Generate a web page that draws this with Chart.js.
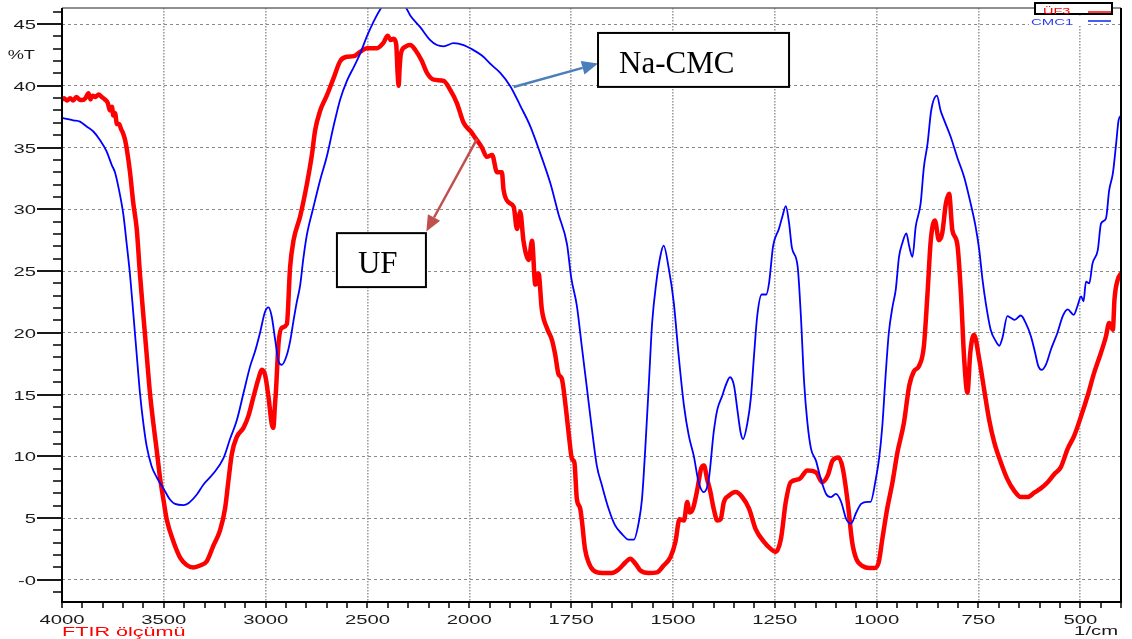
<!DOCTYPE html>
<html>
<head>
<meta charset="utf-8">
<script src="https://cdn.jsdelivr.net/npm/chart.js@4.4.1/dist/chart.umd.min.js"></script>
<style>
  html, body { margin: 0; padding: 0; background: #fff; }
  #wrap { width: 1132px; height: 639px; }
</style>
</head>
<body>
<div id="wrap"><canvas id="c" width="1132" height="639"></canvas></div>
<script>
// UF3 (urea-formaldehyde) transmittance spectrum
const ufWavenumber = [
  4000,3990,3975,3960,3945,3930,3915,3900,3885,3870,
  3860,3850,3835,3820,3805,3790,3775,3765,3755,3748,
  3740,3730,3720,3710,3699,3690,3682,3666,3650,3633,
  3617,3600,3584,3568,3551,3535,3519,3502,3486,3453,
  3420,3388,3355,3322,3289,3257,3224,3199,3183,3166,
  3142,3109,3085,3060,3035,3019,3003,2986,2970,2962,
  2955,2949,2937,2921,2896,2880,2863,2831,2798,2773,
  2757,2732,2700,2667,2634,2601,2568,2536,2503,2454,
  2421,2401,2385,2372,2359,2352,2347,2342,2336,2315,
  2290,2265,2233,2208,2175,2126,2093,2061,2028,1995,
  1989,1969,1957,1944,1932,1920,1916,1903,1891,1883,
  1875,1867,1854,1846,1838,1830,1822,1809,1797,1789,
  1781,1773,1764,1756,1748,1742,1736,1728,1724,1716,
  1707,1695,1674,1650,1633,1617,1605,1592,1580,1560,
  1539,1523,1506,1494,1484,1473,1465,1459,1451,1440,
  1431,1424,1416,1408,1400,1391,1383,1375,1363,1346,
  1330,1313,1297,1276,1260,1248,1235,1223,1211,1190,
  1170,1149,1133,1120,1108,1093,1083,1071,1060,1050,
  1034,1018,1005,995,986,974,961,949,933,920,
  908,896,884,875,867,857,847,839,830,822,
  814,802,793,785,777,770,761,748,736,724,
  711,695,679,662,646,629,613,597,580,564,
  548,531,515,498,482,466,449,437,429,420,
  416,408,400
];
const ufTransmittance = [
  38.9,39.0,38.8,39.0,38.8,39.1,38.9,38.85,39.0,39.4,
  38.9,39.2,39.1,39.3,39.1,38.9,38.6,38.0,38.3,37.6,
  37.8,36.9,36.9,36.5,36.1,35.6,34.9,33.0,30.5,28.4,
  24.7,21.3,18.2,15.1,12.6,10.5,8.3,6.5,4.9,3.1,
  1.8,1.2,1.0,1.15,1.5,2.75,4.0,5.8,8.0,10.2,
  11.55,12.3,13.25,14.8,16.3,17.0,16.6,14.8,12.6,12.3,
  14.0,15.4,19.1,20.4,20.7,25.3,27.5,29.4,32.0,34.4,
  36.4,38.0,39.2,40.6,42.0,42.35,42.4,42.75,43.05,43.05,
  43.5,44.05,43.7,43.8,43.35,41.0,40.0,41.5,42.6,43.15,
  43.3,42.9,42.0,41.05,40.5,40.4,39.65,38.6,37.0,36.25,
  35.95,35.0,34.25,34.4,33.0,33.0,31.6,30.55,30.2,28.4,
  29.8,27.45,25.9,27.45,23.9,24.8,21.9,20.35,19.4,18.2,
  16.65,16.3,14.2,11.85,9.8,9.5,6.55,5.8,4.9,2.5,
  1.4,0.75,0.55,0.55,0.85,1.4,1.7,1.3,0.75,0.55,
  0.6,1.15,1.85,3.05,4.9,4.8,6.3,5.45,5.75,7.35,
  9.0,9.25,8.15,7.1,5.75,4.8,4.9,6.3,6.8,7.1,
  6.7,5.75,4.1,3.05,2.5,2.25,3.3,6.3,7.9,8.15,
  8.85,8.7,7.9,8.45,9.65,9.9,9.0,6.3,3.05,1.7,
  1.1,0.95,0.95,1.4,3.3,5.75,7.9,10.3,12.7,15.7,
  16.9,17.3,18.9,23.2,27.5,29.1,27.5,28.05,30.45,31.25,
  28.3,27.2,23.2,17.85,15.15,18.4,19.85,17.85,15.4,13.0,
  11.1,9.5,8.15,7.2,6.7,6.7,7.05,7.4,7.9,8.55,
  9.1,10.6,11.65,13.25,14.9,16.75,18.4,19.7,20.8,20.25,
  22.7,24.3,24.8
];

// CMC1 (sodium carboxymethyl cellulose) transmittance spectrum
const cmcWavenumber = [
  4000,3970,3944,3912,3879,3846,3813,3781,3756,3740,
  3723,3699,3682,3666,3650,3633,3617,3600,3584,3560,
  3535,3502,3470,3445,3404,3379,3338,3306,3257,3207,
  3175,3142,3109,3076,3052,3027,3003,2986,2970,2953,
  2937,2921,2896,2880,2863,2847,2831,2815,2798,2765,
  2732,2700,2667,2634,2601,2568,2536,2503,2470,2437,
  2410,2370,2330,2310,2290,2241,2192,2159,2126,2077,
  2028,1993,1969,1944,1924,1899,1875,1850,1826,1801,
  1781,1760,1750,1736,1724,1711,1699,1687,1674,1658,
  1642,1625,1609,1596,1584,1576,1568,1559,1551,1541,
  1531,1523,1510,1498,1486,1473,1461,1449,1437,1424,
  1412,1400,1391,1379,1371,1360,1350,1342,1334,1328,
  1317,1309,1301,1293,1282,1271,1264,1254,1240,1231,
  1223,1215,1208,1194,1186,1178,1170,1161,1149,1137,
  1124,1112,1100,1087,1075,1063,1050,1038,1022,1015,
  1002,994,986,978,970,961,953,945,937,927,
  920,912,904,892,884,875,866,852,843,834,
  818,802,785,769,757,748,740,732,720,707,
  699,691,679,670,661,646,634,621,611,603,
  595,584,572,556,543,531,516,507,498,492,
  486,478,470,457,449,437,429,420,412,406,
  400
];
const cmcTransmittance = [
  37.4,37.3,37.2,37.1,36.7,36.3,35.6,34.7,33.6,33.0,
  31.8,29.6,27.15,24.7,21.6,18.2,15.1,12.6,10.8,9.2,
  8.3,7.4,6.5,6.15,6.05,6.2,6.9,7.7,8.6,9.85,
  11.4,12.9,15.1,17.3,18.5,20.05,21.7,22.05,21.3,19.4,
  17.7,17.4,18.2,19.3,21.0,22.5,23.8,26.0,27.9,30.2,
  32.4,34.25,36.7,38.9,40.4,41.5,42.6,44.0,45.2,46.2,
  46.8,46.9,46.6,46.3,45.7,44.75,43.7,43.3,43.2,43.45,
  43.3,42.95,42.45,41.65,41.05,39.95,38.4,36.7,34.55,32.1,
  29.6,27.15,24.5,22.2,18.95,15.45,12.2,9.25,7.6,5.75,
  4.4,3.7,3.25,3.25,4.65,6.55,10.6,16.0,20.85,24.05,
  26.2,27.05,25.15,22.45,18.15,14.1,11.65,10.05,7.9,7.1,
  8.15,11.95,13.8,14.9,15.7,16.4,15.7,13.8,11.95,11.4,
  12.75,14.65,18.15,21.4,23.1,23.1,24.05,27.05,28.4,29.45,
  30.25,28.9,26.9,25.4,21.4,16.0,12.75,10.6,9.65,8.15,
  6.95,6.7,6.95,6.3,4.95,4.55,5.45,6.15,6.3,6.3,
  8.15,9.8,12.45,16.5,20.0,22.1,23.5,26.15,27.25,28.05,
  27.0,26.15,28.6,30.45,33.4,35.3,38.0,39.2,38.0,37.2,
  35.85,34.2,32.6,30.45,28.6,26.7,24.3,22.4,20.25,19.3,
  18.95,19.6,21.35,21.2,21.05,21.4,20.8,19.7,18.4,17.3,
  17.0,17.45,18.65,20.0,21.35,21.9,21.45,22.15,22.95,22.55,
  24.15,24.0,25.6,26.7,28.85,29.25,31.55,32.9,35.3,37.2,
  37.6
];

// Axis ticks
const xMajorTicks = [4000, 3500, 3000, 2500, 2000, 1750, 1500, 1250, 1000, 750, 500];
const yMajorTicks = [0, 5, 10, 15, 20, 25, 30, 35, 40, 45];
const yTickLabels = ['-0', '5', '10', '15', '20', '25', '30', '35', '40', '45'];

// Series names
const seriesNames = ['ÜF3', 'CMC1'];

// Wavenumber axis: below BREAK_AT every cm-1 gets EXPANSION times the width
const BREAK_AT = 2000;
const EXPANSION = 2;

class FtirAxis extends Chart.LinearScale {
  _offset(v) {
    return v >= BREAK_AT ? this.max - v : (this.max - BREAK_AT) + (BREAK_AT - v) * EXPANSION;
  }
  getPixelForValue(v) {
    return this.left + this.width * this._offset(v) / this._offset(this.min);
  }
  getValueForPixel(px) {
    const off = (px - this.left) / this.width * this._offset(this.min);
    const hi = this.max - BREAK_AT;
    return off <= hi ? this.max - off : BREAK_AT - (off - hi) / EXPANSION;
  }
  buildTicks() {
    const ticks = [];
    for (let v = this.max; v >= this.min; v -= (v > BREAK_AT ? 100 : 50)) {
      ticks.push({ value: v, major: xMajorTicks.includes(v) });
    }
    return ticks;
  }
}
FtirAxis.id = 'ftir';
FtirAxis.defaults = {};
Chart.register(FtirAxis);

// Boxed callouts pointing at each curve (wavenumber / %T coordinates)
const callouts = [
  { text: 'Na-CMC', box: [1684, 1215, 44.28, 39.91], tail: [1891, 39.9], tip: [1684, 41.8], color: '#4a7ebb' },
  { text: 'UF', box: [2650, 2213, 28.07, 23.7], tail: [1981, 35.7], tip: [2211, 28.2], color: '#c0504d' }
];

function stretchedText(ctx, text, x, y, align, size, color, sx, family) {
  ctx.save();
  ctx.font = size + 'px ' + (family || '"Liberation Sans", Arial, sans-serif');
  ctx.fillStyle = color;
  ctx.textAlign = 'left';
  ctx.textBaseline = 'alphabetic';
  const w = ctx.measureText(text).width * sx;
  const left = align === 'center' ? x - w / 2 : align === 'right' ? x - w : x;
  ctx.translate(left, y);
  ctx.scale(sx, 1);
  ctx.fillText(text, 0, 0);
  ctx.restore();
  return w;
}

function seg(ctx, x0, y0, x1, y1) {
  ctx.beginPath(); ctx.moveTo(x0, y0); ctx.lineTo(x1, y1); ctx.stroke();
}

function arrow(ctx, x0, y0, x1, y1, color, width, headLen, headHalf) {
  const a = Math.atan2(y1 - y0, x1 - x0);
  const bx = x1 - headLen * Math.cos(a), by = y1 - headLen * Math.sin(a);
  ctx.save();
  ctx.strokeStyle = color; ctx.lineWidth = width; ctx.lineCap = 'butt';
  seg(ctx, x0, y0, bx, by);
  ctx.fillStyle = color;
  ctx.beginPath();
  ctx.moveTo(x1, y1);
  ctx.lineTo(bx + headHalf * Math.sin(a), by - headHalf * Math.cos(a));
  ctx.lineTo(bx - headHalf * Math.sin(a), by + headHalf * Math.cos(a));
  ctx.closePath();
  ctx.fill();
  ctx.restore();
}

const whiteBackground = {
  id: 'whiteBackground',
  beforeDraw(chart) {
    const { ctx, width, height } = chart;
    ctx.save(); ctx.fillStyle = '#fff'; ctx.fillRect(0, 0, width, height); ctx.restore();
  }
};

const frameAndLabels = {
  id: 'frameAndLabels',
  afterDraw(chart) {
    const { ctx, chartArea: a, scales: { x, y } } = chart;
    ctx.save();
    ctx.lineCap = 'butt';

    // Plot frame
    ctx.strokeStyle = '#6a6a6a'; ctx.lineWidth = 1.5;
    seg(ctx, a.left, a.top, a.right, a.top);
    ctx.strokeStyle = '#000'; ctx.lineWidth = 2;
    seg(ctx, a.right, a.top, a.right, a.bottom);
    seg(ctx, a.left, a.top, a.left, a.bottom + 1);
    seg(ctx, a.left - 1, a.bottom, a.right + 1, a.bottom);

    // Wavenumber ticks and labels
    ctx.lineWidth = 1.5;
    x.ticks.forEach(t => {
      const px = Math.round(x.getPixelForValue(t.value));
      seg(ctx, px, a.bottom, px, a.bottom + 6);
    });
    xMajorTicks.forEach(v => {
      stretchedText(ctx, String(v), x.getPixelForValue(v), 623.5, 'center', 13.5, '#1a1a1a', 1.5);
    });
    stretchedText(ctx, '1/cm', 1118, 635, 'right', 13.5, '#1a1a1a', 1.5);
    stretchedText(ctx, 'FTIR ölçümü', 62, 636, 'left', 13.5, '#ff0000', 1.6);

    // Transmittance ticks and labels
    y.ticks.forEach(t => {
      const py = Math.round(y.getPixelForValue(t.value));
      const major = yMajorTicks.includes(t.value);
      ctx.lineWidth = major ? 1.8 : 1.5;
      seg(ctx, a.left - (major ? 25 : 9), py, a.left, py);
    });
    yMajorTicks.forEach((v, i) => {
      stretchedText(ctx, yTickLabels[i], 36, y.getPixelForValue(v) + 5, 'right', 13.5, '#1a1a1a', 1.5);
    });
    stretchedText(ctx, '%T', 35, 59, 'right', 13.5, '#1a1a1a', 1.35);

    // Legend
    ctx.fillStyle = '#fff';
    ctx.fillRect(1035, 3, 77, 11);
    ctx.strokeStyle = '#000'; ctx.lineWidth = 2;
    ctx.strokeRect(1035, 3, 77, 11);
    stretchedText(ctx, seriesNames[0], 1043, 14, 'left', 8.5, '#ff0000', 1.7);
    ctx.strokeStyle = '#ff0000'; ctx.lineWidth = 1.5;
    seg(ctx, 1088, 12, 1111, 12);
    ctx.fillStyle = '#fff';
    ctx.fillRect(1029, 17, 58, 9);
    stretchedText(ctx, seriesNames[1], 1031, 24.5, 'left', 8.5, '#2a3cf0', 1.75);
    ctx.strokeStyle = '#4a5cf0'; ctx.lineWidth = 2;
    seg(ctx, 1088, 21, 1111, 21);

    // Callouts
    callouts.forEach(c => {
      const bx0 = x.getPixelForValue(c.box[0]), bx1 = x.getPixelForValue(c.box[1]);
      const by0 = y.getPixelForValue(c.box[2]), by1 = y.getPixelForValue(c.box[3]);
      arrow(ctx, x.getPixelForValue(c.tail[0]), y.getPixelForValue(c.tail[1]),
            x.getPixelForValue(c.tip[0]), y.getPixelForValue(c.tip[1]), c.color, 2.5, 16, 7);
      ctx.fillStyle = '#fff';
      ctx.fillRect(bx0, by0, bx1 - bx0, by1 - by0);
      ctx.strokeStyle = '#000'; ctx.lineWidth = 2;
      ctx.strokeRect(bx0, by0, bx1 - bx0, by1 - by0);
      ctx.fillStyle = '#000';
      ctx.font = '31px "Liberation Serif", "Times New Roman", serif';
      ctx.textAlign = 'left'; ctx.textBaseline = 'alphabetic';
      ctx.fillText(c.text, bx0 + 21, by0 + 40);
    });
    ctx.restore();
  }
};

const toPoints = (xs, ys) => xs.map((w, i) => ({ x: w, y: ys[i] }));

new Chart(document.getElementById('c'), {
  type: 'line',
  data: {
    datasets: [
      {
        label: seriesNames[1],
        data: toPoints(cmcWavenumber, cmcTransmittance),
        borderColor: '#0000ff',
        borderWidth: 1.8,
        pointRadius: 0,
        cubicInterpolationMode: 'monotone',
        borderJoinStyle: 'round',
        fill: false,
        clip: 0
      },
      {
        label: seriesNames[0],
        data: toPoints(ufWavenumber, ufTransmittance),
        borderColor: '#ff0000',
        borderWidth: 4.5,
        pointRadius: 0,
        cubicInterpolationMode: 'monotone',
        borderJoinStyle: 'round',
        borderCapStyle: 'round',
        fill: false,
        clip: 0
      }
    ]
  },
  options: {
    responsive: false,
    devicePixelRatio: 1,
    animation: false,
    events: [],
    layout: { padding: { top: 8, right: 11, left: 0, bottom: 0 } },
    plugins: { legend: { display: false }, tooltip: { enabled: false }, title: { display: false } },
    scales: {
      x: {
        type: 'ftir',
        axis: 'x',
        position: 'bottom',
        min: 400,
        max: 4000,
        ticks: { display: false, autoSkip: false },
        grid: {
          drawTicks: false,
          lineWidth: 1.6,
          color: ctx => (ctx.tick && ctx.tick.major) ? '#9c9c9c' : 'rgba(0,0,0,0)'
        },
        border: { display: false, dash: [1.5, 1.5] },
        afterFit: s => { s.height = 37; }
      },
      y: {
        type: 'linear',
        position: 'left',
        min: -1.8,
        max: 46.3,
        afterBuildTicks: s => {
          const t = [];
          for (let v = -1; v <= 46; v++) t.push({ value: v });
          s.ticks = t;
        },
        ticks: { display: false, autoSkip: false },
        grid: {
          drawTicks: false,
          lineWidth: 1,
          color: ctx => (ctx.tick && yMajorTicks.includes(ctx.tick.value)) ? '#8a8a8a' : 'rgba(0,0,0,0)'
        },
        border: { display: false, dash: [3, 3] },
        afterFit: s => { s.width = 62; }
      }
    }
  },
  plugins: [whiteBackground, frameAndLabels]
});
</script>
</body>
</html>
